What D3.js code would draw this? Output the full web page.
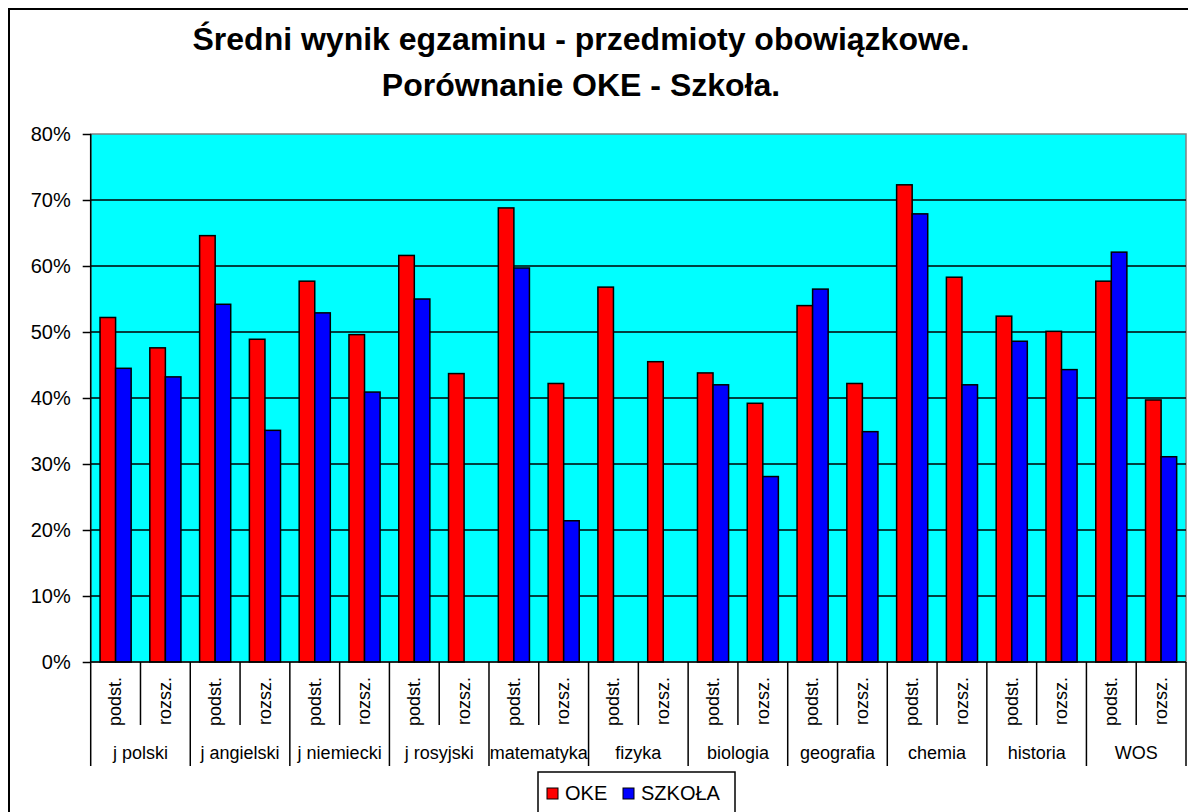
<!DOCTYPE html>
<html>
<head>
<meta charset="utf-8">
<script src="https://cdn.jsdelivr.net/npm/d3@7"></script>
<style>
    body { margin: 0; background: #fff; }
    svg { display: block; font-family: Arial, 'Liberation Sans', sans-serif; }
</style>
</head>
<body>
<div id="viz"></div>
<script>
let subjects = ['j polski', 'j angielski', 'j niemiecki', 'j rosyjski', 'matematyka', 'fizyka', 'biologia', 'geografia', 'chemia', 'historia', 'WOS'];
let levels = ['podst.', 'rozsz.'];
let series = ['OKE', 'SZKOŁA'];
let colors = ['#ff0000', '#0000ff'];
// values in %, order: subject x level
let oke = [52.2, 47.6, 64.6, 48.9, 57.7, 49.6, 61.6, 43.7, 68.8, 42.2, 56.8, 45.5, 43.8, 39.2, 54.0, 42.2, 72.3, 58.3, 52.4, 50.1, 57.7, 39.7];
let szkola = [44.5, 43.2, 54.2, 35.1, 52.9, 40.9, 55.0, null, 59.7, 21.4, null, null, 42.0, 28.1, 56.5, 34.9, 67.9, 42.0, 48.6, 44.3, 62.1, 31.1];
let yTicks = [0, 10, 20, 30, 40, 50, 60, 70, 80];
let title = ['Średni wynik egzaminu - przedmioty obowiązkowe.', 'Porównanie OKE - Szkoła.'];

window.onload = function () {
    graph()
}

function graph() {
    const width = 1188, height = 812;
    const left = 90.7, right = 1186, top = 134, bottom = 662;

    // flatten categories
    let cats = [];
    subjects.forEach(function (s, i) {
        levels.forEach(function (l, j) {
            let k = i * levels.length + j;
            cats.push({key: s + '|' + l, subject: s, level: l, idx: k, vals: [oke[k], szkola[k]]});
        });
    });

    const svg = d3.select('#viz').append('svg')
        .attr('width', width)
        .attr('height', height);

    // outer frame (runs off the right / bottom edge)
    svg.append('rect')
        .attr('x', 9).attr('y', 9)
        .attr('width', 1200).attr('height', 820)
        .attr('fill', '#fff')
        .attr('stroke', '#000')
        .attr('stroke-width', 2);

    const x0 = d3.scaleBand().domain(cats.map(d => d.key)).range([left, right]);
    const x1 = d3.scaleBand().domain(series).range([0, x0.bandwidth()]).paddingOuter(0.6);
    const y = d3.scaleLinear().domain([0, 80]).range([bottom, top]);

    // plot area
    svg.append('rect')
        .attr('x', left).attr('y', top)
        .attr('width', right - left).attr('height', bottom - top)
        .attr('fill', '#00ffff')
        .attr('stroke', '#808080')
        .attr('stroke-width', 1.5);

    // gridlines
    svg.append('g')
        .selectAll('line')
        .data(yTicks.filter(d => d > 0 && d < 80))
        .join('line')
        .attr('x1', left).attr('x2', right)
        .attr('y1', d => y(d)).attr('y2', d => y(d))
        .attr('stroke', '#000')
        .attr('stroke-width', 1.5);

    // bars
    const grp = svg.append('g')
        .selectAll('g')
        .data(cats)
        .join('g')
        .attr('transform', d => 'translate(' + x0(d.key) + ',0)');

    grp.selectAll('rect')
        .data(d => d.vals.map((v, i) => ({s: series[i], v: v, c: colors[i]})).filter(e => e.v != null))
        .join('rect')
        .attr('x', d => x1(d.s))
        .attr('width', x1.bandwidth())
        .attr('y', d => y(d.v))
        .attr('height', d => y(0) - y(d.v))
        .attr('fill', d => d.c)
        .attr('stroke', '#000')
        .attr('stroke-width', 1.5);

    // y axis
    const yAxis = svg.append('g')
        .attr('transform', 'translate(' + left + ',0)')
        .call(d3.axisLeft(y).tickValues(yTicks).tickFormat(d => d + '%').tickSize(8).tickPadding(12));
    yAxis.select('.domain').attr('stroke', '#000').attr('stroke-width', 1.5).attr('d', 'M0,' + top + 'V' + bottom);
    yAxis.selectAll('.tick line').attr('stroke', '#000').attr('stroke-width', 1.5);
    yAxis.selectAll('.tick text')
        .attr('font-size', 20)
        .attr('font-family', "Arial, 'Liberation Sans', sans-serif")
        .attr('fill', '#000');

    // x axis line
    svg.append('line')
        .attr('x1', left).attr('x2', right)
        .attr('y1', bottom).attr('y2', bottom)
        .attr('stroke', '#000').attr('stroke-width', 1.5);

    // category separators (short within a subject, long between subjects)
    let seps = cats.map(d => ({x: x0(d.key), long: d.idx % 2 === 0}));
    seps.push({x: right, long: true});
    svg.append('g')
        .selectAll('line')
        .data(seps)
        .join('line')
        .attr('x1', d => d.x).attr('x2', d => d.x)
        .attr('y1', bottom)
        .attr('y2', d => d.long ? 766 : 725)
        .attr('stroke', '#000').attr('stroke-width', 1.5);

    // level labels (rotated)
    svg.append('g')
        .selectAll('text')
        .data(cats)
        .join('text')
        .attr('transform', d => 'translate(' + (x0(d.key) + x0.bandwidth() / 2) + ',677) rotate(-90)')
        .attr('text-anchor', 'end')
        .attr('dy', '0.32em')
        .attr('font-size', 18)
        .text(d => d.level);

    // subject labels
    svg.append('g')
        .selectAll('text')
        .data(subjects)
        .join('text')
        .attr('x', (d, i) => x0(cats[i * 2].key) + x0.bandwidth())
        .attr('y', 759)
        .attr('text-anchor', 'middle')
        .attr('font-size', 18)
        .text(d => d);

    // title
    svg.append('g')
        .selectAll('text')
        .data(title)
        .join('text')
        .attr('x', 581)
        .attr('y', (d, i) => 50 + i * 46)
        .attr('text-anchor', 'middle')
        .attr('font-size', 32)
        .attr('font-weight', 'bold')
        .text(d => d);

    // legend
    const lg = svg.append('g');
    lg.append('rect')
        .attr('x', 538).attr('y', 772)
        .attr('width', 197).attr('height', 50)
        .attr('fill', '#fff')
        .attr('stroke', '#000').attr('stroke-width', 1.5);
    let lx = [547, 623];
    series.forEach(function (s, i) {
        lg.append('rect')
            .attr('x', lx[i]).attr('y', 788)
            .attr('width', 11).attr('height', 11)
            .attr('fill', colors[i])
            .attr('stroke', '#000').attr('stroke-width', 1);
        lg.append('text')
            .attr('x', lx[i] + 18).attr('y', 800)
            .attr('font-size', 20)
            .text(s);
    });
}
</script>
</body>
</html>
